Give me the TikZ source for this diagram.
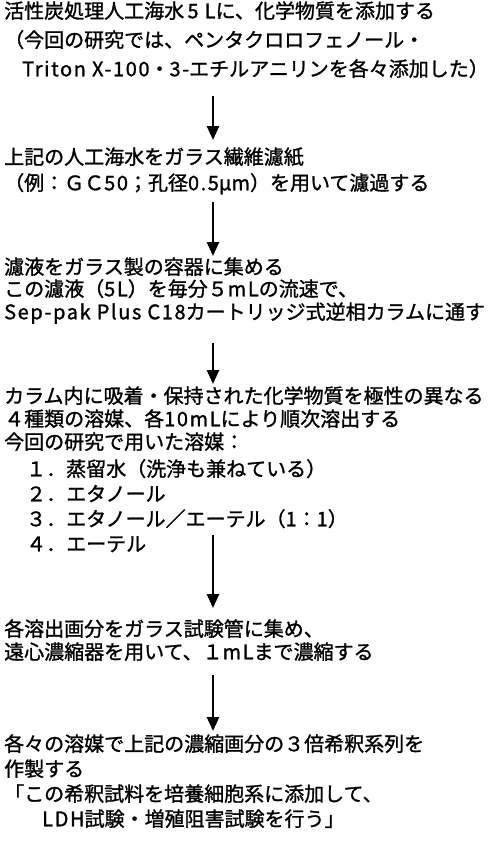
\documentclass[tikz,border=0pt]{standalone}
\usepackage{fontspec}
\setmainfont{Noto Sans CJK JP}
\newfontfamily\jpfont[FakeBold=1.2]{Noto Sans CJK JP}
\usetikzlibrary{arrows.meta}
\newcommand{\lsp}[1]{{\addfontfeatures{LetterSpace=8}#1}}
\begin{document}
\begin{tikzpicture}[x=1pt,y=-1pt,
  txt/.style={anchor=west, inner sep=0pt, font=\jpfont\fontsize{20}{22}\selectfont, text height=16pt, text depth=3.5pt},
  flow/.style={line width=2.6pt, -{Triangle[width=12pt,length=14pt]}}]
\useasboundingbox (0,0) rectangle (500,846);
\fill[white] (0,0) rectangle (500,846);
% block 1
\node[txt] (l1) at (4,12) {活性炭処理人工海水\,\lsp{5 L}に、化学物質を添加する};
\node[txt] (l2) at (4,41) {（今回の研究では、ペンタクロロフェノール・};
\node[txt] (l3) at (22,70) {\lsp{Triton X-100}・\lsp{3-}エチルアニリンを各々添加した）};
% block 2
\node[txt] (l4) at (4,158) {上記の人工海水をガラス繊維濾紙};
\node[txt] (l5) at (4,184) {（例：ＧＣ\lsp{50}；孔径\lsp{0.5}μ\lsp{m}）を用いて濾過する};
% block 3
\node[txt] (l6) at (4,268) {濾液をガラス製の容器に集める};
\node[txt] (l7) at (4,290) {この濾液（\lsp{5L}）を毎分５\lsp{mL}の流速で、};
\node[txt] (l8) at (4,313) {\lsp{Sep-pak Plus C18}カートリッジ式逆相カラムに通す};
% block 4
\node[txt] (l9) at (4,397) {カラム内に吸着・保持された化学物質を極性の異なる};
\node[txt] (l10) at (4,420) {４種類の溶媒、各\lsp{10mL}により順次溶出する};
\node[txt] (l11) at (4,443) {今回の研究で用いた溶媒：};
\node[txt] (l12) at (26,470) {１．蒸留水（洗浄も兼ねている）};
\node[txt] (l13) at (26,495) {２．エタノール};
\node[txt] (l14) at (26,520) {３．エタノール／エーテル（\lsp{1}：\lsp{1}）};
\node[txt] (l15) at (26,545) {４．エーテル};
% block 5
\node[txt] (l16) at (4,630) {各溶出画分をガラス試験管に集め、};
\node[txt] (l17) at (4,653) {遠心濃縮器を用いて、１\lsp{mL}まで濃縮する};
% block 6
\node[txt] (l18) at (4,745) {各々の溶媒で上記の濃縮画分の３倍希釈系列を};
\node[txt] (l19) at (4,770) {作製する};
\node[txt] (l20) at (4,795) {「この希釈試料を培養細胞系に添加して、};
\node[txt] (l21) at (42,820) {\lsp{LDH}試験・増殖阻害試験を行う」};
% connectors
\coordinate (a1s) at (213,96);  \coordinate (a1e) at (213,140);
\coordinate (a2s) at (213,202); \coordinate (a2e) at (213,256);
\coordinate (a3s) at (213,343); \coordinate (a3e) at (213,384);
\coordinate (a4s) at (213,535); \coordinate (a4e) at (213,608);
\coordinate (a5s) at (213,675); \coordinate (a5e) at (213,731);
\draw[flow] (a1s) -- (a1e);
\draw[flow] (a2s) -- (a2e);
\draw[flow] (a3s) -- (a3e);
\draw[flow] (a4s) -- (a4e);
\draw[flow] (a5s) -- (a5e);
\end{tikzpicture}
\end{document}
